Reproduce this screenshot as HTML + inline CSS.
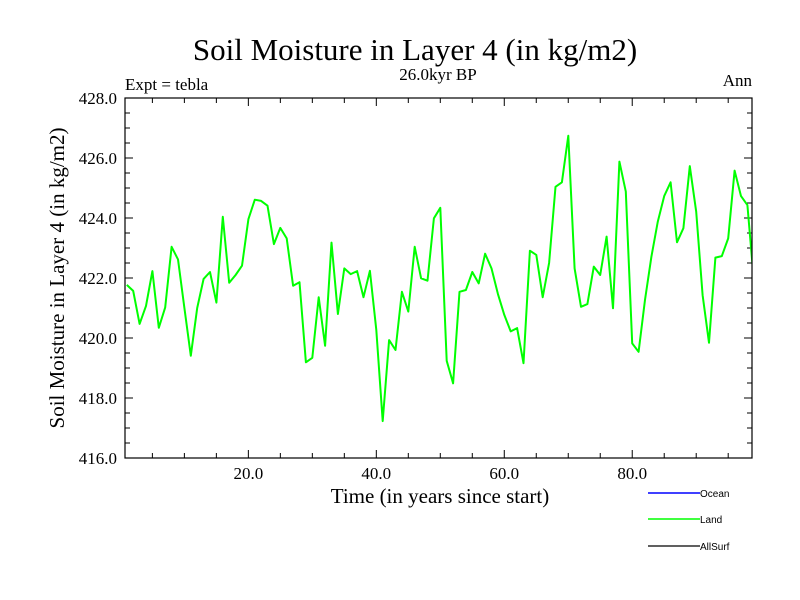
<!DOCTYPE html>
<html><head><meta charset="utf-8"><style>
body{margin:0;background:#fff;}
svg{display:block;}
.s{font-family:"Liberation Serif",serif;fill:#000;}
.a{font-family:"Liberation Sans",sans-serif;fill:#000;}
</style></head><body>
<svg id="chart" width="800" height="600" viewBox="0 0 800 600">
<rect width="800" height="600" fill="#fff"/>
<text class="s" x="415" y="60" font-size="31" text-anchor="middle">Soil Moisture in Layer 4 (in kg/m2)</text>
<text class="s" x="438" y="80" font-size="17" text-anchor="middle">26.0kyr BP</text>
<text class="s" x="125" y="90" font-size="17">Expt = tebla</text>
<text class="s" x="752" y="86" font-size="17" text-anchor="end">Ann</text>
<text class="s" x="440" y="503" font-size="21" text-anchor="middle">Time (in years since start)</text>
<text class="s" transform="translate(64,278) rotate(-90)" font-size="21" text-anchor="middle">Soil Moisture in Layer 4 (in kg/m2)</text>
<g id="ticks"></g>
<g id="labels"></g>
<polyline id="land" fill="none" stroke="#00ff00" stroke-width="2" stroke-linejoin="round"/>
<rect x="125" y="98" width="627" height="360" fill="none" stroke="#000" stroke-width="1.2"/>
<g>
<line x1="648" y1="493" x2="700" y2="493" stroke="#0000ff" stroke-width="1.5"/>
<text class="a" x="700" y="497" font-size="10">Ocean</text>
<line x1="648" y1="519" x2="700" y2="519" stroke="#00ff00" stroke-width="1.5"/>
<text class="a" x="700" y="523" font-size="10">Land</text>
<line x1="648" y1="546" x2="700" y2="546" stroke="#000" stroke-width="1.2"/>
<text class="a" x="700" y="550" font-size="10">AllSurf</text>
</g>
</svg>
<script>
const landValues=[421.77,421.57,420.47,421.07,422.23,420.34,421.02,423.04,422.62,421.0,419.41,421.0,421.97,422.2,421.18,424.04,421.84,422.1,422.41,423.96,424.61,424.57,424.41,423.13,423.67,423.32,421.74,421.86,419.19,419.34,421.36,419.74,423.18,420.8,422.32,422.13,422.23,421.36,422.24,420.27,417.23,419.93,419.6,421.54,420.88,423.04,421.99,421.91,423.99,424.34,419.24,418.49,421.54,421.6,422.2,421.82,422.81,422.32,421.47,420.77,420.22,420.33,419.16,422.91,422.77,421.36,422.5,425.04,425.19,426.74,422.32,421.04,421.13,422.38,422.1,423.38,420.99,425.88,424.88,419.82,419.54,421.27,422.71,423.88,424.73,425.19,423.19,423.66,425.73,424.21,421.43,419.84,422.68,422.73,423.32,425.58,424.73,424.43,421.93];
const yTickValues=[416,418,420,422,424,426,428];
const yTickLabels=["416.0","418.0","420.0","422.0","424.0","426.0","428.0"];
const xTickValues=[20,40,60,80];
const xTickLabels=["20.0","40.0","60.0","80.0"];
const L=125,R=752,T=98,B=458,X0=0.72,X1=98.72,Y0=416,Y1=428;
function xs(v){return L+(v-X0)/(X1-X0)*(R-L);}
function ys(v){return B-(v-Y0)/(Y1-Y0)*(B-T);}
const NS="http://www.w3.org/2000/svg";
const ticks=document.getElementById('ticks'),labels=document.getElementById('labels');
function ln(x1,y1,x2,y2,name){const e=document.createElementNS(NS,'line');e.setAttribute('x1',x1);e.setAttribute('y1',y1);e.setAttribute('x2',x2);e.setAttribute('y2',y2);e.setAttribute('stroke','#000');e.setAttribute('stroke-width','1');


ticks.appendChild(e);}
function tx(x,y,s,anchor,name){const e=document.createElementNS(NS,'text');e.setAttribute('x',x);e.setAttribute('y',y);e.setAttribute('class','s');e.setAttribute('font-size','17');e.setAttribute('text-anchor',anchor);e.textContent=s;


labels.appendChild(e);}
for(let v=Y0;v<=Y1+1e-9;v+=0.5){const y=ys(v);const maj=Math.abs(v/2-Math.round(v/2))<1e-6;const len=maj?8:5;ln(L,y,L+len,y,'y-tick');ln(R,y,R-len,y,'y-tick-right');}
for(let v=5;v<X1;v+=5){const x=xs(v);const maj=v%20===0;const len=maj?8:5;ln(x,B,x,B-len,'x-tick');ln(x,T,x,T+len,'x-tick-top');}
yTickValues.forEach((v,i)=>tx(117,ys(v)+6,yTickLabels[i],'end','y-tick-label'));
xTickValues.forEach((v,i)=>tx(xs(v),479,xTickLabels[i],'middle','x-tick-label'));
const pts=landValues.map((v,i)=>{let x=xs(i+1);return x.toFixed(1)+','+ys(v).toFixed(1);});
const pl=document.getElementById('land');
pl.setAttribute('points',pts.join(' '));
const cp=document.createElementNS(NS,'clipPath');cp.setAttribute('id','clip');
const cr=document.createElementNS(NS,'rect');cr.setAttribute('x',L);cr.setAttribute('y',T);cr.setAttribute('width',R-L);cr.setAttribute('height',B-T);cp.appendChild(cr);
document.getElementById('chart').appendChild(cp);
pl.setAttribute('clip-path','url(#clip)');
</script>
</body></html>
